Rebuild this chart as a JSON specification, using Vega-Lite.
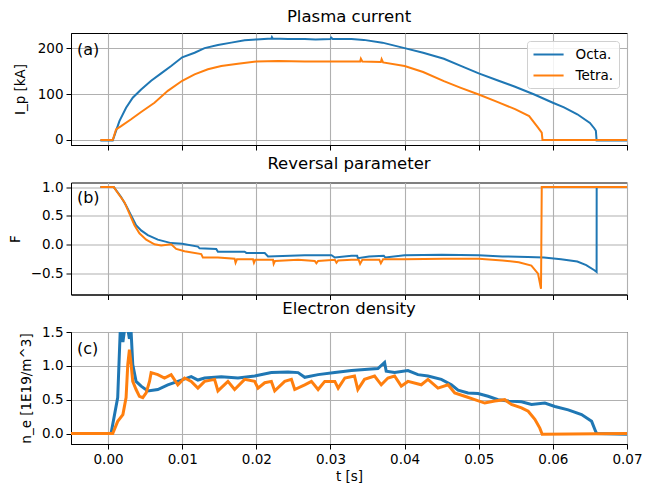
{
  "$schema": "https://vega.github.io/schema/vega-lite/v6.json",
  "background": "white",
  "padding": {"left": 7, "top": 8, "right": 10, "bottom": 5},
  "spacing": 37.5,
  "bounds": "flush",
  "config": {
    "font": "DejaVu Sans",
    "view": {"stroke": "black", "strokeWidth": 1},
    "title": {"fontSize": 16.5, "fontWeight": "normal", "color": "black", "frame": "group", "anchor": "middle", "offset": 8},
    "axis": {
      "labelFontSize": 13.5, "labelColor": "black", "titleFontSize": 13.5, "titleFontWeight": "normal", "titleColor": "black",
      "gridColor": "#b0b0b0", "gridWidth": 1.1, "tickColor": "black", "tickSize": 5, "tickWidth": 1,
      "domainColor": "black", "domainWidth": 1, "labelPadding": 3, "labelOverlap": false, "labelFlush": false, "tickCount": 20
    },
    "legend": {"labelFontSize": 13.5, "labelColor": "black"}
  },
  "resolve": {"legend": {"color": "independent"}},
  "datasets": {
    "a": [
      {"t": -0.00104, "v": -1, "s": "Octa."}, {"t": 0.00063, "v": -1, "s": "Octa."}, {"t": 0.00153, "v": 41, "s": "Octa."},
      {"t": 0.00243, "v": 70, "s": "Octa."}, {"t": 0.00333, "v": 92, "s": "Octa."}, {"t": 0.00446, "v": 110, "s": "Octa."},
      {"t": 0.00581, "v": 129, "s": "Octa."}, {"t": 0.00716, "v": 145, "s": "Octa."}, {"t": 0.00851, "v": 161, "s": "Octa."},
      {"t": 0.01, "v": 180, "s": "Octa."}, {"t": 0.01167, "v": 190, "s": "Octa."}, {"t": 0.01302, "v": 200, "s": "Octa."},
      {"t": 0.01482, "v": 207, "s": "Octa."}, {"t": 0.01662, "v": 212, "s": "Octa."}, {"t": 0.01842, "v": 217, "s": "Octa."},
      {"t": 0.02, "v": 219, "s": "Octa."}, {"t": 0.02203, "v": 221, "s": "Octa."}, {"t": 0.0221, "v": 224, "s": "Octa."},
      {"t": 0.0222, "v": 221, "s": "Octa."}, {"t": 0.02428, "v": 220, "s": "Octa."}, {"t": 0.02653, "v": 220, "s": "Octa."},
      {"t": 0.028, "v": 219, "s": "Octa."}, {"t": 0.03, "v": 220, "s": "Octa."}, {"t": 0.0301, "v": 223, "s": "Octa."},
      {"t": 0.0303, "v": 220, "s": "Octa."}, {"t": 0.03284, "v": 220, "s": "Octa."}, {"t": 0.0345, "v": 218, "s": "Octa."},
      {"t": 0.037, "v": 212, "s": "Octa."}, {"t": 0.04, "v": 200, "s": "Octa."}, {"t": 0.0425, "v": 190, "s": "Octa."},
      {"t": 0.0453, "v": 177, "s": "Octa."}, {"t": 0.0475, "v": 162, "s": "Octa."}, {"t": 0.05, "v": 145, "s": "Octa."},
      {"t": 0.0525, "v": 130, "s": "Octa."}, {"t": 0.0549, "v": 116, "s": "Octa."}, {"t": 0.0575, "v": 99, "s": "Octa."},
      {"t": 0.06, "v": 81, "s": "Octa."}, {"t": 0.0615, "v": 71, "s": "Octa."}, {"t": 0.0633, "v": 56, "s": "Octa."},
      {"t": 0.065, "v": 37, "s": "Octa."}, {"t": 0.0656, "v": 25, "s": "Octa."}, {"t": 0.0658, "v": 20, "s": "Octa."},
      {"t": 0.0659, "v": -1, "s": "Octa."}, {"t": 0.07, "v": -1, "s": "Octa."},
      {"t": -0.00104, "v": 0, "s": "Tetra."}, {"t": 0.00063, "v": 0, "s": "Tetra."}, {"t": 0.00108, "v": 23, "s": "Tetra."},
      {"t": 0.00176, "v": 30, "s": "Tetra."}, {"t": 0.00311, "v": 45, "s": "Tetra."}, {"t": 0.00446, "v": 61, "s": "Tetra."},
      {"t": 0.00626, "v": 81, "s": "Tetra."}, {"t": 0.00806, "v": 107, "s": "Tetra."}, {"t": 0.01, "v": 129, "s": "Tetra."},
      {"t": 0.01167, "v": 143, "s": "Tetra."}, {"t": 0.01347, "v": 154, "s": "Tetra."}, {"t": 0.01527, "v": 161, "s": "Tetra."},
      {"t": 0.01752, "v": 166, "s": "Tetra."}, {"t": 0.02, "v": 171, "s": "Tetra."}, {"t": 0.02293, "v": 172, "s": "Tetra."},
      {"t": 0.02653, "v": 171, "s": "Tetra."}, {"t": 0.03005, "v": 171, "s": "Tetra."}, {"t": 0.034, "v": 171, "s": "Tetra."},
      {"t": 0.0341, "v": 177, "s": "Tetra."}, {"t": 0.0343, "v": 171, "s": "Tetra."}, {"t": 0.0368, "v": 170, "s": "Tetra."},
      {"t": 0.0369, "v": 176, "s": "Tetra."}, {"t": 0.0371, "v": 169, "s": "Tetra."}, {"t": 0.04, "v": 161, "s": "Tetra."},
      {"t": 0.0425, "v": 148, "s": "Tetra."}, {"t": 0.0453, "v": 128, "s": "Tetra."}, {"t": 0.0475, "v": 114, "s": "Tetra."},
      {"t": 0.05, "v": 99, "s": "Tetra."}, {"t": 0.0525, "v": 83, "s": "Tetra."}, {"t": 0.0549, "v": 67, "s": "Tetra."},
      {"t": 0.0568, "v": 52, "s": "Tetra."}, {"t": 0.058, "v": 27, "s": "Tetra."}, {"t": 0.0585, "v": 16, "s": "Tetra."},
      {"t": 0.0586, "v": 0, "s": "Tetra."}, {"t": 0.07, "v": 0, "s": "Tetra."}
    ],
    "b": [
      {"t": -0.00104, "v": 1.0, "s": "Octa."}, {"t": 0.00077, "v": 1.0, "s": "Octa."}, {"t": 0.00176, "v": 0.83, "s": "Octa."},
      {"t": 0.00243, "v": 0.68, "s": "Octa."}, {"t": 0.00311, "v": 0.51, "s": "Octa."}, {"t": 0.00378, "v": 0.34, "s": "Octa."},
      {"t": 0.00446, "v": 0.25, "s": "Octa."}, {"t": 0.00536, "v": 0.17, "s": "Octa."}, {"t": 0.00671, "v": 0.09, "s": "Octa."},
      {"t": 0.00851, "v": 0.03, "s": "Octa."}, {"t": 0.01, "v": 0.02, "s": "Octa."}, {"t": 0.01212, "v": -0.03, "s": "Octa."},
      {"t": 0.01234, "v": -0.06, "s": "Octa."}, {"t": 0.01459, "v": -0.07, "s": "Octa."}, {"t": 0.01482, "v": -0.12, "s": "Octa."},
      {"t": 0.01842, "v": -0.12, "s": "Octa."}, {"t": 0.01865, "v": -0.14, "s": "Octa."}, {"t": 0.02113, "v": -0.14, "s": "Octa."},
      {"t": 0.02158, "v": -0.2, "s": "Octa."}, {"t": 0.02653, "v": -0.18, "s": "Octa."}, {"t": 0.03014, "v": -0.18, "s": "Octa."},
      {"t": 0.03059, "v": -0.22, "s": "Octa."}, {"t": 0.03284, "v": -0.19, "s": "Octa."}, {"t": 0.0336, "v": -0.19, "s": "Octa."},
      {"t": 0.0337, "v": -0.23, "s": "Octa."}, {"t": 0.0352, "v": -0.2, "s": "Octa."}, {"t": 0.0372, "v": -0.19, "s": "Octa."},
      {"t": 0.0374, "v": -0.22, "s": "Octa."}, {"t": 0.04, "v": -0.18, "s": "Octa."}, {"t": 0.045, "v": -0.17, "s": "Octa."},
      {"t": 0.05, "v": -0.18, "s": "Octa."}, {"t": 0.0532, "v": -0.2, "s": "Octa."}, {"t": 0.0566, "v": -0.21, "s": "Octa."},
      {"t": 0.0588, "v": -0.22, "s": "Octa."}, {"t": 0.0611, "v": -0.25, "s": "Octa."}, {"t": 0.0633, "v": -0.29, "s": "Octa."},
      {"t": 0.0645, "v": -0.35, "s": "Octa."}, {"t": 0.0656, "v": -0.44, "s": "Octa."}, {"t": 0.0659, "v": -0.47, "s": "Octa."},
      {"t": 0.06591, "v": 1.0, "s": "Octa."}, {"t": 0.07, "v": 1.0, "s": "Octa."},
      {"t": -0.00104, "v": 1.0, "s": "Tetra."}, {"t": 0.00077, "v": 1.0, "s": "Tetra."}, {"t": 0.00153, "v": 0.86, "s": "Tetra."},
      {"t": 0.00221, "v": 0.74, "s": "Tetra."}, {"t": 0.00288, "v": 0.54, "s": "Tetra."}, {"t": 0.00356, "v": 0.34, "s": "Tetra."},
      {"t": 0.00423, "v": 0.2, "s": "Tetra."}, {"t": 0.00514, "v": 0.09, "s": "Tetra."}, {"t": 0.00626, "v": 0.01, "s": "Tetra."},
      {"t": 0.00716, "v": -0.01, "s": "Tetra."}, {"t": 0.00851, "v": 0.01, "s": "Tetra."}, {"t": 0.00919, "v": -0.07, "s": "Tetra."},
      {"t": 0.01032, "v": -0.11, "s": "Tetra."}, {"t": 0.01257, "v": -0.16, "s": "Tetra."}, {"t": 0.01279, "v": -0.22, "s": "Tetra."},
      {"t": 0.01482, "v": -0.22, "s": "Tetra."}, {"t": 0.01707, "v": -0.24, "s": "Tetra."}, {"t": 0.0172, "v": -0.31, "s": "Tetra."},
      {"t": 0.01739, "v": -0.25, "s": "Tetra."}, {"t": 0.01955, "v": -0.25, "s": "Tetra."}, {"t": 0.01968, "v": -0.31, "s": "Tetra."},
      {"t": 0.01986, "v": -0.26, "s": "Tetra."}, {"t": 0.02225, "v": -0.26, "s": "Tetra."}, {"t": 0.02234, "v": -0.33, "s": "Tetra."},
      {"t": 0.02252, "v": -0.28, "s": "Tetra."}, {"t": 0.02563, "v": -0.26, "s": "Tetra."}, {"t": 0.02788, "v": -0.28, "s": "Tetra."},
      {"t": 0.0281, "v": -0.32, "s": "Tetra."}, {"t": 0.02833, "v": -0.28, "s": "Tetra."}, {"t": 0.03059, "v": -0.26, "s": "Tetra."},
      {"t": 0.03081, "v": -0.31, "s": "Tetra."}, {"t": 0.03104, "v": -0.27, "s": "Tetra."}, {"t": 0.03284, "v": -0.26, "s": "Tetra."},
      {"t": 0.0338, "v": -0.26, "s": "Tetra."}, {"t": 0.034, "v": -0.33, "s": "Tetra."}, {"t": 0.0343, "v": -0.26, "s": "Tetra."},
      {"t": 0.0366, "v": -0.26, "s": "Tetra."}, {"t": 0.0368, "v": -0.32, "s": "Tetra."}, {"t": 0.0371, "v": -0.25, "s": "Tetra."},
      {"t": 0.04, "v": -0.25, "s": "Tetra."}, {"t": 0.0453, "v": -0.24, "s": "Tetra."}, {"t": 0.05, "v": -0.24, "s": "Tetra."},
      {"t": 0.0532, "v": -0.27, "s": "Tetra."}, {"t": 0.0554, "v": -0.3, "s": "Tetra."}, {"t": 0.0571, "v": -0.36, "s": "Tetra."},
      {"t": 0.058, "v": -0.5, "s": "Tetra."}, {"t": 0.0584, "v": -0.76, "s": "Tetra."}, {"t": 0.0585, "v": 1.0, "s": "Tetra."},
      {"t": 0.07, "v": 1.0, "s": "Tetra."}
    ],
    "c": [
      {"t": -0.005, "v": 0, "s": "Octa."}, {"t": 0.0004, "v": 0, "s": "Octa."}, {"t": 0.0013, "v": 0.53, "s": "Octa."},
      {"t": 0.00167, "v": 1.6, "s": "Octa."}, {"t": 0.002, "v": 1.35, "s": "Octa."}, {"t": 0.00243, "v": 1.7, "s": "Octa."},
      {"t": 0.00288, "v": 1.4, "s": "Octa."}, {"t": 0.00311, "v": 1.5, "s": "Octa."}, {"t": 0.00333, "v": 1.02, "s": "Octa."},
      {"t": 0.00378, "v": 0.77, "s": "Octa."}, {"t": 0.00446, "v": 0.7, "s": "Octa."}, {"t": 0.00536, "v": 0.63, "s": "Octa."},
      {"t": 0.00671, "v": 0.65, "s": "Octa."}, {"t": 0.00806, "v": 0.72, "s": "Octa."}, {"t": 0.00941, "v": 0.77, "s": "Octa."},
      {"t": 0.01122, "v": 0.84, "s": "Octa."}, {"t": 0.01212, "v": 0.79, "s": "Octa."}, {"t": 0.01302, "v": 0.82, "s": "Octa."},
      {"t": 0.01527, "v": 0.84, "s": "Octa."}, {"t": 0.01752, "v": 0.82, "s": "Octa."}, {"t": 0.01977, "v": 0.85, "s": "Octa."},
      {"t": 0.02203, "v": 0.9, "s": "Octa."}, {"t": 0.02428, "v": 0.91, "s": "Octa."}, {"t": 0.02563, "v": 0.9, "s": "Octa."},
      {"t": 0.02653, "v": 0.83, "s": "Octa."}, {"t": 0.02833, "v": 0.87, "s": "Octa."}, {"t": 0.03059, "v": 0.9, "s": "Octa."},
      {"t": 0.03284, "v": 0.93, "s": "Octa."}, {"t": 0.03505, "v": 0.95, "s": "Octa."}, {"t": 0.0364, "v": 0.96, "s": "Octa."},
      {"t": 0.0373, "v": 1.05, "s": "Octa."}, {"t": 0.03752, "v": 0.92, "s": "Octa."}, {"t": 0.03865, "v": 0.9, "s": "Octa."},
      {"t": 0.04045, "v": 0.93, "s": "Octa."}, {"t": 0.0418, "v": 0.87, "s": "Octa."}, {"t": 0.04315, "v": 0.85, "s": "Octa."},
      {"t": 0.04495, "v": 0.8, "s": "Octa."}, {"t": 0.04631, "v": 0.72, "s": "Octa."}, {"t": 0.04721, "v": 0.64, "s": "Octa."},
      {"t": 0.04856, "v": 0.6, "s": "Octa."}, {"t": 0.04991, "v": 0.59, "s": "Octa."}, {"t": 0.05126, "v": 0.55, "s": "Octa."},
      {"t": 0.05261, "v": 0.5, "s": "Octa."}, {"t": 0.05396, "v": 0.48, "s": "Octa."}, {"t": 0.05577, "v": 0.47, "s": "Octa."},
      {"t": 0.05712, "v": 0.43, "s": "Octa."}, {"t": 0.05892, "v": 0.45, "s": "Octa."}, {"t": 0.06027, "v": 0.4, "s": "Octa."},
      {"t": 0.06207, "v": 0.35, "s": "Octa."}, {"t": 0.06387, "v": 0.28, "s": "Octa."}, {"t": 0.06523, "v": 0.18, "s": "Octa."},
      {"t": 0.06577, "v": 0.03, "s": "Octa."}, {"t": 0.0659, "v": 0, "s": "Octa."}, {"t": 0.07, "v": -0.01, "s": "Octa."},
      {"t": -0.005, "v": 0, "s": "Tetra."}, {"t": 0.00063, "v": 0, "s": "Tetra."}, {"t": 0.0013, "v": 0.18, "s": "Tetra."},
      {"t": 0.002, "v": 0.28, "s": "Tetra."}, {"t": 0.00243, "v": 0.53, "s": "Tetra."}, {"t": 0.00266, "v": 1.02, "s": "Tetra."},
      {"t": 0.00288, "v": 1.24, "s": "Tetra."}, {"t": 0.00311, "v": 1.02, "s": "Tetra."}, {"t": 0.00333, "v": 0.77, "s": "Tetra."},
      {"t": 0.00378, "v": 0.65, "s": "Tetra."}, {"t": 0.00423, "v": 0.55, "s": "Tetra."}, {"t": 0.00468, "v": 0.53, "s": "Tetra."},
      {"t": 0.00514, "v": 0.6, "s": "Tetra."}, {"t": 0.00559, "v": 0.77, "s": "Tetra."}, {"t": 0.00581, "v": 0.9, "s": "Tetra."},
      {"t": 0.00671, "v": 0.87, "s": "Tetra."}, {"t": 0.00761, "v": 0.82, "s": "Tetra."}, {"t": 0.00851, "v": 0.87, "s": "Tetra."},
      {"t": 0.00941, "v": 0.72, "s": "Tetra."}, {"t": 0.01032, "v": 0.82, "s": "Tetra."}, {"t": 0.01122, "v": 0.77, "s": "Tetra."},
      {"t": 0.01212, "v": 0.67, "s": "Tetra."}, {"t": 0.01302, "v": 0.77, "s": "Tetra."}, {"t": 0.01437, "v": 0.8, "s": "Tetra."},
      {"t": 0.01482, "v": 0.63, "s": "Tetra."}, {"t": 0.01617, "v": 0.77, "s": "Tetra."}, {"t": 0.01707, "v": 0.65, "s": "Tetra."},
      {"t": 0.01842, "v": 0.8, "s": "Tetra."}, {"t": 0.01977, "v": 0.77, "s": "Tetra."}, {"t": 0.02023, "v": 0.67, "s": "Tetra."},
      {"t": 0.02113, "v": 0.75, "s": "Tetra."}, {"t": 0.02203, "v": 0.77, "s": "Tetra."}, {"t": 0.02248, "v": 0.63, "s": "Tetra."},
      {"t": 0.02383, "v": 0.77, "s": "Tetra."}, {"t": 0.02473, "v": 0.8, "s": "Tetra."}, {"t": 0.02518, "v": 0.65, "s": "Tetra."},
      {"t": 0.02653, "v": 0.72, "s": "Tetra."}, {"t": 0.02743, "v": 0.77, "s": "Tetra."}, {"t": 0.02833, "v": 0.65, "s": "Tetra."},
      {"t": 0.02923, "v": 0.77, "s": "Tetra."}, {"t": 0.03059, "v": 0.77, "s": "Tetra."}, {"t": 0.03104, "v": 0.67, "s": "Tetra."},
      {"t": 0.03194, "v": 0.82, "s": "Tetra."}, {"t": 0.03324, "v": 0.85, "s": "Tetra."}, {"t": 0.03369, "v": 0.65, "s": "Tetra."},
      {"t": 0.03459, "v": 0.8, "s": "Tetra."}, {"t": 0.03595, "v": 0.85, "s": "Tetra."}, {"t": 0.03685, "v": 0.72, "s": "Tetra."},
      {"t": 0.03775, "v": 0.82, "s": "Tetra."}, {"t": 0.03865, "v": 0.85, "s": "Tetra."}, {"t": 0.03955, "v": 0.7, "s": "Tetra."},
      {"t": 0.04045, "v": 0.77, "s": "Tetra."}, {"t": 0.04225, "v": 0.72, "s": "Tetra."}, {"t": 0.04315, "v": 0.8, "s": "Tetra."},
      {"t": 0.0445, "v": 0.67, "s": "Tetra."}, {"t": 0.04586, "v": 0.72, "s": "Tetra."}, {"t": 0.04676, "v": 0.6, "s": "Tetra."},
      {"t": 0.04811, "v": 0.55, "s": "Tetra."}, {"t": 0.04946, "v": 0.5, "s": "Tetra."}, {"t": 0.05081, "v": 0.45, "s": "Tetra."},
      {"t": 0.05216, "v": 0.48, "s": "Tetra."}, {"t": 0.05351, "v": 0.5, "s": "Tetra."}, {"t": 0.05441, "v": 0.43, "s": "Tetra."},
      {"t": 0.05577, "v": 0.38, "s": "Tetra."}, {"t": 0.05667, "v": 0.33, "s": "Tetra."}, {"t": 0.05757, "v": 0.21, "s": "Tetra."},
      {"t": 0.05824, "v": 0.08, "s": "Tetra."}, {"t": 0.05856, "v": -0.01, "s": "Tetra."}, {"t": 0.07, "v": 0, "s": "Tetra."}
    ]
  },
  "vconcat": [
    {
      "title": "Plasma current",
      "width": 556, "height": 112,
      "data": {"name": "a"},
      "layer": [
        {
          "mark": {"type": "line", "strokeWidth": 2, "clip": true},
          "encoding": {
            "x": {"field": "t", "type": "quantitative", "scale": {"domain": [-0.005, 0.07], "nice": false, "zero": false},
                  "axis": {"values": [0, 0.01, 0.02, 0.03, 0.04, 0.05, 0.06, 0.07], "labels": false, "title": null}},
            "y": {"field": "v", "type": "quantitative", "scale": {"domain": [-11, 233], "nice": false, "zero": false},
                  "axis": {"values": [0, 100, 200], "title": "I_p [kA]", "titleX": -51, "titleBaseline": "middle"}},
            "color": {"field": "s", "type": "nominal", "scale": {"domain": ["Octa.", "Tetra."], "range": ["#1f77b4", "#ff7f0e"]},
                      "legend": {"title": null, "orient": "top-right", "offset": 8, "symbolType": "M-1,0L3.3,0", "symbolSize": 196,
                                 "symbolStrokeWidth": 2, "fillColor": "rgba(255,255,255,0.85)", "strokeColor": "#d0d0d0",
                                 "cornerRadius": 3, "padding": 5.5, "rowPadding": 6, "labelOffset": 27}}
          }
        },
        {
          "data": {"values": [{"t": -0.0042, "v": 196, "lab": "(a)"}]},
          "mark": {"type": "text", "fontSize": 16, "align": "left", "baseline": "middle", "color": "black"},
          "encoding": {"x": {"field": "t", "type": "quantitative"}, "y": {"field": "v", "type": "quantitative"}, "text": {"field": "lab"}}
        }
      ]
    },
    {
      "title": "Reversal parameter",
      "width": 556, "height": 112,
      "data": {"name": "b"},
      "layer": [
        {
          "mark": {"type": "line", "strokeWidth": 2, "clip": true},
          "encoding": {
            "x": {"field": "t", "type": "quantitative", "scale": {"domain": [-0.005, 0.07], "nice": false, "zero": false},
                  "axis": {"values": [0, 0.01, 0.02, 0.03, 0.04, 0.05, 0.06, 0.07], "labels": false, "title": null}},
            "y": {"field": "v", "type": "quantitative", "scale": {"domain": [-0.86, 1.08], "nice": false, "zero": false},
                  "axis": {"values": [-0.5, 0, 0.5, 1], "tickCount": 20, "labelExpr": "replace(format(datum.value, '.1f'), '-', '\u2212')", "title": "F", "titleX": -56, "titleBaseline": "middle"}},
            "color": {"field": "s", "type": "nominal", "scale": {"domain": ["Octa.", "Tetra."], "range": ["#1f77b4", "#ff7f0e"]}, "legend": null}
          }
        },
        {
          "data": {"values": [{"t": -0.0042, "v": 0.82, "lab": "(b)"}]},
          "mark": {"type": "text", "fontSize": 16, "align": "left", "baseline": "middle", "color": "black"},
          "encoding": {"x": {"field": "t", "type": "quantitative"}, "y": {"field": "v", "type": "quantitative"}, "text": {"field": "lab"}}
        }
      ]
    },
    {
      "title": "Electron density",
      "width": 556, "height": 112,
      "data": {"name": "c"},
      "layer": [
        {
          "mark": {"type": "line", "strokeWidth": 3, "clip": true},
          "encoding": {
            "x": {"field": "t", "type": "quantitative", "scale": {"domain": [-0.005, 0.07], "nice": false, "zero": false},
                  "axis": {"values": [0, 0.01, 0.02, 0.03, 0.04, 0.05, 0.06, 0.07], "format": ".2f", "title": "t [s]", "titlePadding": 4}},
            "y": {"field": "v", "type": "quantitative", "scale": {"domain": [-0.155, 1.5], "nice": false, "zero": false},
                  "axis": {"values": [0, 0.5, 1, 1.5], "tickCount": 20, "labelExpr": "format(datum.value, '.1f')", "title": "n_e [1E19/m^3]", "titleX": -45, "titleBaseline": "middle"}},
            "color": {"field": "s", "type": "nominal", "scale": {"domain": ["Octa.", "Tetra."], "range": ["#1f77b4", "#ff7f0e"]}, "legend": null}
          }
        },
        {
          "data": {"values": [{"t": -0.0042, "v": 1.25, "lab": "(c)"}]},
          "mark": {"type": "text", "fontSize": 16, "align": "left", "baseline": "middle", "color": "black"},
          "encoding": {"x": {"field": "t", "type": "quantitative"}, "y": {"field": "v", "type": "quantitative"}, "text": {"field": "lab"}}
        }
      ]
    }
  ]
}
